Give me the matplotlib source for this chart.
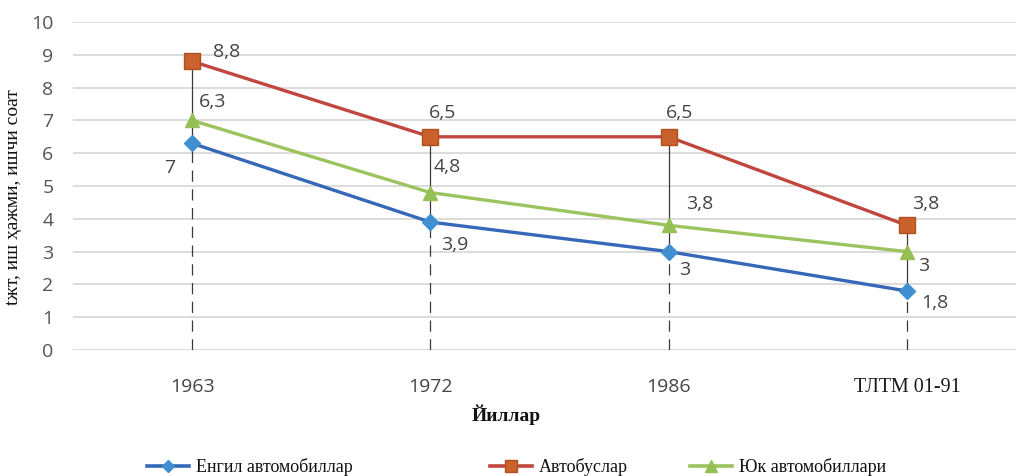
import matplotlib
matplotlib.use("Agg")
import matplotlib.pyplot as plt
from matplotlib.lines import Line2D

# Categories and series values
years = ["1963", "1972", "1986", "ТЛТМ 01-91"]
engil = [6.3, 3.9, 3.0, 1.8]        # Енгил автомобиллар
avtobus = [8.8, 6.5, 6.5, 3.8]      # Автобуслар
yuk = [7.0, 4.8, 3.8, 3.0]          # Юк автомобиллари
yticks = list(range(0, 11))

series_names = ["Енгил автомобиллар", "Автобуслар", "Юк автомобиллари"]

W, H = 1016, 476
fig = plt.figure(figsize=(W / 100, H / 100), dpi=100)
ax = fig.add_axes([73 / W, (H - 350) / H, (1026 - 73) / W, (350 - 22) / H])

x = list(range(len(years)))

# Drop lines: solid between lowest and highest series, dashed down to zero
for i in x:
    vals = [engil[i], avtobus[i], yuk[i]]
    lo, hi = min(vals), max(vals)
    ax.plot([i, i], [lo, hi], color="#3a3a3a", lw=0.9, zorder=2)
    ax.plot([i, i], [0, lo], color="#3a3a3a", lw=0.9, dashes=(9, 6), zorder=2)

blue_line, blue_mk = "#3767b8", "#3f8fd2"
red_line, red_mk = "#c0463f", "#c9622c"
green_line, green_mk = "#9bc35e", "#94c055"

l1, = ax.plot(x, engil, color=blue_line, lw=2.4, marker="D", ms=8,
              mfc=blue_mk, mec=blue_mk, zorder=4)
l2, = ax.plot(x, avtobus, color=red_line, lw=2.4, marker="s", ms=11,
              mfc=red_mk, mec="#b05020", zorder=4)
l3, = ax.plot(x, yuk, color=green_line, lw=2.4, marker="^", ms=10,
              mfc=green_mk, mec=green_mk, zorder=4)

ax.set_xlim(-0.5, 3.5)
ax.set_ylim(0, 10)
ax.set_yticks(yticks)
ax.set_xticks(x)
ax.set_xticklabels(years)
for lab in ax.get_xticklabels()[:3]:
    lab.set_family("Open Sans")
    lab.set_fontsize(14)
    lab.set_color("#444444")
last = ax.get_xticklabels()[3]
last.set_family("Liberation Serif")
last.set_fontsize(14.5)
last.set_color("#1a1a1a")
for lab in ax.get_yticklabels():
    lab.set_family("Open Sans")
    lab.set_fontsize(14)
    lab.set_color("#555555")
ax.tick_params(axis="y", length=0, pad=14)
ax.tick_params(axis="x", length=0, pad=20)
ax.grid(axis="y", color="#d2d2d2", lw=1.1)
ax.set_axisbelow(True)
for s in ax.spines.values():
    s.set_visible(False)

# Data labels (value text, offset in pixels from its point)
def fmt(v):
    return ("%g" % v).replace(".", ",")

label_specs = [
    (0, avtobus, 35, 9), (0, engil, 20, 41), (0, yuk, -22, -48),
    (1, avtobus, 12, 24), (1, yuk, 17, 26), (1, engil, 24, -23),
    (2, avtobus, 11, 24), (2, yuk, 31, 21), (2, engil, 16, -18),
    (3, avtobus, 19, 21), (3, yuk, 17, -14), (3, engil, 28, -12),
]
for i, ser, dx, dy in label_specs:
    ax.annotate(fmt(ser[i]), (i, ser[i]), xytext=(dx, dy), textcoords="offset pixels",
                ha="center", va="center", family="Open Sans", fontsize=14,
                color="#444444", zorder=5)

fig.text(506 / W, 1 - 415 / H, "Йиллар", ha="center", va="center",
         family="Liberation Serif", fontweight="bold", fontsize=14, color="#111111")
fig.text(14 / W, 1 - 197 / H, "tжт, иш ҳажми, ишчи соат", rotation=90,
         ha="center", va="center", family="Liberation Serif", fontsize=14,
         color="#111111")

# Legend entries placed individually along the bottom
handles = [
    Line2D([], [], color=blue_line, lw=2.6, marker="D", ms=6, mfc=blue_mk, mec=blue_mk),
    Line2D([], [], color=red_line, lw=2.6, marker="s", ms=9, mfc=red_mk, mec="#b05020"),
    Line2D([], [], color=green_line, lw=2.6, marker="^", ms=8, mfc=green_mk, mec=green_mk),
]
left_px = [147, 490, 690]
for h, name, lx in zip(handles, series_names, left_px):
    leg = fig.legend([h], [name], loc="center left",
                     bbox_to_anchor=(lx / W, 1 - 467 / H), frameon=False,
                     handlelength=2.3, handletextpad=0.4, borderaxespad=0,
                     borderpad=0, prop={"family": "Liberation Serif", "size": 13})
    for t in leg.get_texts():
        t.set_color("#111111")

fig.savefig("out.png", dpi=100, facecolor="white")
